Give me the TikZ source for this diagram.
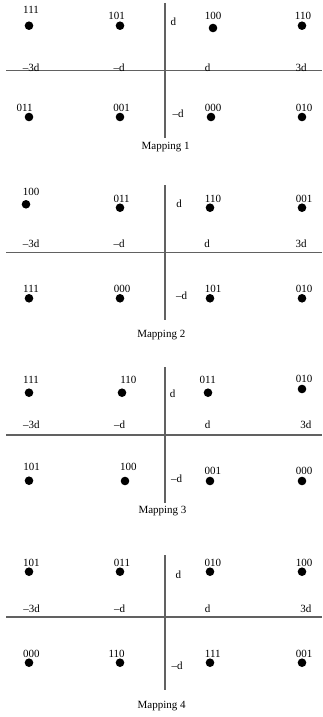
\documentclass[tikz,border=0pt]{standalone}
\usepackage{fontspec}
\setmainfont{Liberation Serif}
\begin{document}
\begin{tikzpicture}[x=1pt,y=-1pt,
  dot/.style={circle,fill=black,inner sep=0pt,minimum size=8.6pt},
  lbl/.style={anchor=base,inner sep=0pt,font=\fontsize{11}{13}\selectfont},
  axis/.style={draw=black!62,line width=1.2pt}]
\useasboundingbox (0,0) rectangle (322,717);

% ---------------- Mapping 1 ----------------
\coordinate (h1l) at (6,70.5); \coordinate (h1r) at (322,70.5);
\coordinate (v1t) at (165,3); \coordinate (v1b) at (165,138);
\draw[axis] (h1l) -- (h1r);
\draw[axis] (v1t) -- (v1b);
\node[dot] (p1a) at (29,25.7) {};  \node[lbl] (l1a) at (31,13.7) {111};
\node[dot] (p1b) at (120,25.7) {}; \node[lbl] (l1b) at (116.7,19.7) {101};
\node[dot] (p1c) at (213,28) {};   \node[lbl] (l1c) at (213,19.7) {100};
\node[dot] (p1d) at (302,25.7) {}; \node[lbl] (l1d) at (303,19.7) {110};
\node[dot] (p1e) at (29,117) {};   \node[lbl] (l1e) at (24.7,111.7) {011};
\node[dot] (p1f) at (120,117) {};  \node[lbl] (l1f) at (121.7,111.7) {001};
\node[dot] (p1g) at (211,117) {};  \node[lbl] (l1g) at (213,111.7) {000};
\node[dot] (p1h) at (302,117) {};  \node[lbl] (l1h) at (304,111.7) {010};
\node[lbl] (y1p) at (173.3,25.4) {d};
\node[lbl] (y1m) at (178,117) {\textendash d};
\node[lbl] (x1a) at (31,71) {\textendash 3d};
\node[lbl] (x1b) at (119,71) {\textendash d};
\node[lbl] (x1c) at (207.5,71) {d};
\node[lbl] (x1d) at (301,71) {3d};
\node[lbl] (m1) at (165.7,149.5) {Mapping 1};

% ---------------- Mapping 2 ----------------
\coordinate (h2l) at (6,252.7); \coordinate (h2r) at (322,252.7);
\coordinate (v2t) at (165,185); \coordinate (v2b) at (165,320);
\draw[axis] (h2l) -- (h2r);
\draw[axis] (v2t) -- (v2b);
\node[dot] (p2a) at (26,204.3) {};   \node[lbl] (l2a) at (31,195.9) {100};
\node[dot] (p2b) at (120,207.7) {};  \node[lbl] (l2b) at (121.7,202) {011};
\node[dot] (p2c) at (210,207.7) {};  \node[lbl] (l2c) at (213,202) {110};
\node[dot] (p2d) at (302,207.7) {};  \node[lbl] (l2d) at (304,202) {001};
\node[dot] (p2e) at (29,298.3) {};   \node[lbl] (l2e) at (31,292) {111};
\node[dot] (p2f) at (120,298.3) {};  \node[lbl] (l2f) at (122,292) {000};
\node[dot] (p2g) at (210,298.3) {};  \node[lbl] (l2g) at (213,292) {101};
\node[dot] (p2h) at (302,298.3) {};  \node[lbl] (l2h) at (304,292) {010};
\node[lbl] (y2p) at (179,207) {d};
\node[lbl] (y2m) at (181.7,299.7) {\textendash d};
\node[lbl] (x2a) at (31,247) {\textendash 3d};
\node[lbl] (x2b) at (119,247) {\textendash d};
\node[lbl] (x2c) at (207,247) {d};
\node[lbl] (x2d) at (301,247) {3d};
\node[lbl] (m2) at (161.3,337.5) {Mapping 2};

% ---------------- Mapping 3 ----------------
\coordinate (h3l) at (6,435); \coordinate (h3r) at (322,435);
\coordinate (v3t) at (165,367); \coordinate (v3b) at (165,503);
\draw[axis] (h3l) -- (h3r);
\draw[axis] (v3t) -- (v3b);
\node[dot] (p3a) at (29,392.7) {};   \node[lbl] (l3a) at (31,383.7) {111};
\node[dot] (p3b) at (122,392.7) {};  \node[lbl] (l3b) at (128.3,383.7) {110};
\node[dot] (p3c) at (208,392.7) {};  \node[lbl] (l3c) at (207.7,383.7) {011};
\node[dot] (p3d) at (302,389) {};    \node[lbl] (l3d) at (304,382.7) {010};
\node[dot] (p3e) at (29,480.7) {};   \node[lbl] (l3e) at (31.7,470.4) {101};
\node[dot] (p3f) at (125,481) {};    \node[lbl] (l3f) at (128.3,470.4) {100};
\node[dot] (p3g) at (210,481) {};    \node[lbl] (l3g) at (212.8,474.7) {001};
\node[dot] (p3h) at (302,481) {};    \node[lbl] (l3h) at (304,474.7) {000};
\node[lbl] (y3p) at (172.7,397) {d};
\node[lbl] (y3m) at (176.7,482) {\textendash d};
\node[lbl] (x3a) at (31.3,428.7) {\textendash 3d};
\node[lbl] (x3b) at (119.7,428.7) {\textendash d};
\node[lbl] (x3c) at (207.5,428.7) {d};
\node[lbl] (x3d) at (305.8,428.7) {3d};
\node[lbl] (m3) at (162.5,513.1) {Mapping 3};

% ---------------- Mapping 4 ----------------
\coordinate (h4l) at (6,617); \coordinate (h4r) at (322,617);
\coordinate (v4t) at (165,555); \coordinate (v4b) at (165,690);
\draw[axis] (h4l) -- (h4r);
\draw[axis] (v4t) -- (v4b);
\node[dot] (p4a) at (29,571.7) {};   \node[lbl] (l4a) at (31.3,566.4) {101};
\node[dot] (p4b) at (120,571.7) {};  \node[lbl] (l4b) at (122,566.4) {011};
\node[dot] (p4c) at (210,571.7) {};  \node[lbl] (l4c) at (212.8,566.4) {010};
\node[dot] (p4d) at (302,571.7) {};  \node[lbl] (l4d) at (304,566.4) {100};
\node[dot] (p4e) at (29,662.7) {};   \node[lbl] (l4e) at (31.3,657) {000};
\node[dot] (p4f) at (120,662.7) {};  \node[lbl] (l4f) at (116.7,657) {110};
\node[dot] (p4g) at (210,662.7) {};  \node[lbl] (l4g) at (212.8,657) {111};
\node[dot] (p4h) at (302,662.7) {};  \node[lbl] (l4h) at (304,657) {001};
\node[lbl] (y4p) at (178.3,578) {d};
\node[lbl] (y4m) at (177,669.7) {\textendash d};
\node[lbl] (x4a) at (31.7,612) {\textendash 3d};
\node[lbl] (x4b) at (119.7,612) {\textendash d};
\node[lbl] (x4c) at (207.5,612) {d};
\node[lbl] (x4d) at (305.8,612) {3d};
\node[lbl] (m4) at (161.7,708.1) {Mapping 4};
\end{tikzpicture}
\end{document}
